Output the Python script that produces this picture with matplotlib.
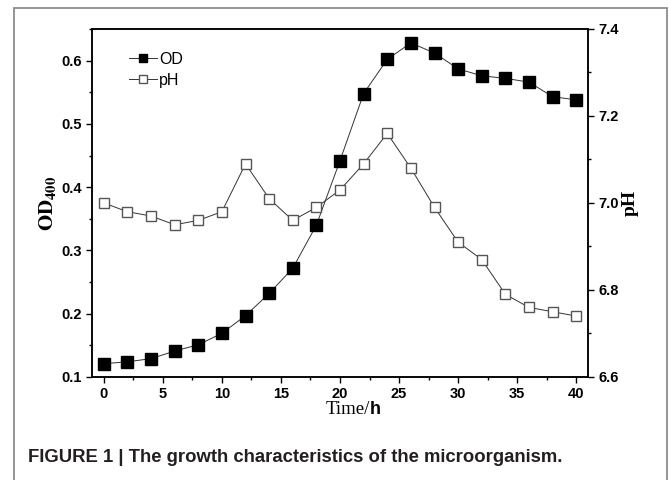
import matplotlib
matplotlib.use("Agg")
import matplotlib.pyplot as plt
from matplotlib.ticker import MultipleLocator, FormatStrFormatter
from matplotlib.patches import Rectangle

# sampling times (h) and measurements
time_h = [0, 2, 4, 6, 8, 10, 12, 14, 16, 18, 20, 22, 24, 26, 28, 30, 32, 34, 36, 38, 40]
od400 = [0.121, 0.124, 0.129, 0.141, 0.151, 0.169, 0.197, 0.232, 0.272, 0.340, 0.442,
         0.548, 0.602, 0.628, 0.612, 0.587, 0.576, 0.572, 0.566, 0.543, 0.538]
ph = [7.00, 6.98, 6.97, 6.95, 6.96, 6.98, 7.09, 7.01, 6.96, 6.99, 7.03,
      7.09, 7.16, 7.08, 6.99, 6.91, 6.87, 6.79, 6.76, 6.75, 6.74]

plt.rcParams["mathtext.fontset"] = "stix"
narrow = ["Liberation Sans Narrow", "Liberation Sans", "DejaVu Sans"]

fig = plt.figure(figsize=(6.69, 4.80), dpi=100)
ax = fig.add_axes([0.1375, 0.2146, 0.7415, 0.725])
ax2 = ax.twinx()

ax.plot(time_h, od400, color="#333333", lw=0.7, marker="s", ms=8,
        mfc="black", mec="black", label="OD")
ax2.plot(time_h, ph, color="#333333", lw=0.7, marker="s", ms=7.5,
         mfc="white", mec="#555555", mew=1.0, label="pH")

ax.set_xlim(-1, 41)
ax.set_ylim(0.1, 0.65)
ax2.set_ylim(6.6, 7.4)

ax.xaxis.set_major_locator(MultipleLocator(5))
ax.xaxis.set_minor_locator(MultipleLocator(2.5))
ax.yaxis.set_major_locator(MultipleLocator(0.1))
ax.yaxis.set_minor_locator(MultipleLocator(0.05))
ax2.yaxis.set_major_locator(MultipleLocator(0.2))
ax2.yaxis.set_minor_locator(MultipleLocator(0.1))

for a in (ax, ax2):
    a.tick_params(which="major", direction="out", length=4, width=1)
    a.tick_params(which="minor", direction="out", length=2.5, width=1)
    for lab in a.get_xticklabels() + a.get_yticklabels():
        lab.set_fontfamily(narrow)
        lab.set_fontweight("bold")
        lab.set_fontsize(10.5)
    for s in a.spines.values():
        s.set_linewidth(1.1)
ax.tick_params(top=False, right=False)
ax2.tick_params(which="both", right=True, left=False, top=False)

ax.yaxis.set_major_formatter(FormatStrFormatter("%.1f"))
ax2.yaxis.set_major_formatter(FormatStrFormatter("%.1f"))

ax.set_ylabel(r"$\mathbf{OD_{400}}$", fontsize=15, labelpad=2)
ax2.set_ylabel("pH", fontfamily="Liberation Serif", fontweight="bold",
               fontsize=14, rotation=90, labelpad=2)

# x label: serif "Time/" followed by a bold sans "h"
fig.text(370 / 669, 1 - 410 / 480, "Time/", ha="right", va="center",
         fontfamily="Liberation Serif", fontsize=13.5)
fig.text(370 / 669, 1 - 410 / 480, "h", ha="left", va="center",
         fontfamily="Liberation Sans", fontweight="bold", fontsize=13)

h1, l1 = ax.get_legend_handles_labels()
h2, l2 = ax2.get_legend_handles_labels()
ax2.legend(h1 + h2, l1 + l2, loc="upper left", bbox_to_anchor=(0.045, 0.975),
           frameon=False, handlelength=1.8, handletextpad=0.1, labelspacing=0.35,
           markerscale=0.8, prop={"family": "Liberation Sans", "size": 11.5})

# outer panel border and caption
fig.patches.append(Rectangle((14 / 669, -0.1), (667 - 14) / 669, 1.1 - 8 / 480,
                             transform=fig.transFigure, fill=False,
                             edgecolor="#8c8c8c", lw=1.3))
fig.text(28 / 669, 1 - 457 / 480,
         "FIGURE 1 | The growth characteristics of the microorganism.",
         ha="left", va="center", fontfamily="Liberation Sans", fontweight="bold",
         fontsize=13.3, color="#231f20")

fig.savefig("out.png", dpi=100)
